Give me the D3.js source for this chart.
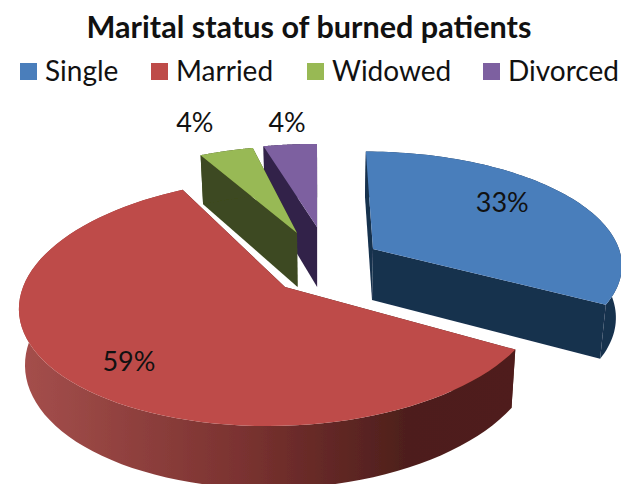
<!DOCTYPE html>
<html>
<head>
<meta charset="utf-8">
<script src="https://cdn.jsdelivr.net/npm/d3@7"></script>
<style>
  html, body { margin: 0; padding: 0; background: #fff; }
  text { font-family: Lato, "Open Sans", sans-serif; fill: #111; }
</style>
</head>
<body>
<div id="chart"></div>
<script>
// chart data
let categories = ['Single', 'Married', 'Widowed', 'Divorced'];
let percents = [33, 59, 4, 4];
let titleText = 'Marital status of burned patients';

// colours: top face, cut face
let topColors = ['#4a7ebb', '#be4b48', '#98b954', '#7d60a0'];
let sideColors = ['#17304e', '#4e1f1b', '#3e4a20', '#32244a'];

// how each exploded slice sits on the page (apex, radii, thickness, label)
let sliceLayout = [
  {ax: 373, ay: 249, bl: 246, br: 246, a: 109, s: -8, depth: 51, labelR: .6, ldx: 9, ldy: -14},
  {ax: 285, ay: 287, bl: 262, br: 256, a: 122.5, s: 15, depth: 55, labelR: .72, ldx: -6, ldy: 8},
  {ax: 297, ay: 233, bl: 241, br: 241, a: 98, s: 11, depth: 54, labelR: 1.3, ldx: -13, ldy: -7},
  {ax: 317, ay: 227, bl: 240, br: 240, a: 93, s: 0, depth: 60, labelR: 1.3, ldx: 4, ldy: 0}
];

// legend x positions (swatch left edge)
let legendX = [20, 151, 307, 483];

let svgWidth = 621;
let svgHeight = 484;
let persp = 0.119;     // far side of the pie is drawn smaller
let vanishX = 324;     // bottom face pulls toward this x
let shrink = 0.02;

let svg = d3.select('#chart').append('svg')
  .attr('width', svgWidth)
  .attr('height', svgHeight);

let defs = svg.append('defs');
let rimGradient = defs.append('linearGradient')
  .attr('id', 'rimRed')
  .attr('gradientUnits', 'userSpaceOnUse')
  .attr('x1', 20).attr('x2', 515).attr('y1', 0).attr('y2', 0);
[[0, '#a54f4c'], [0.45, '#7a3230'], [0.78, '#4e1f1c'], [1, '#4f1e1a']].forEach(function(s) {
  rimGradient.append('stop').attr('offset', s[0]).attr('stop-color', s[1]);
});

defs.append('filter').attr('id', 'soft')
  .append('feGaussianBlur').attr('stdDeviation', 0.5);

// d3.pie gives the angles, clockwise from 12 o'clock
let pie = d3.pie().sort(null).value(d => d);
let arcs = pie(percents);

function project(layout, angle, r) {
  let sin = Math.sin(angle);
  let cos = Math.cos(angle);
  let w = 1 + persp * r * cos;
  let b = sin < 0 ? layout.bl : layout.br;
  return [
    layout.ax + r * (b * sin + layout.s * cos) / w,
    layout.ay - r * layout.a * cos / w
  ];
}

// same point on the underside of the slice
function lower(layout, angle, r) {
  let p = project(layout, angle, r);
  let w = 1 + persp * r * Math.cos(angle);
  return [p[0] - shrink * (p[0] - vanishX), p[1] + layout.depth / w];
}

let line = d3.line();
let pieGroup = svg.append('g').attr('filter', 'url(#soft)');

// back to front so the married slice ends on top
let drawOrder = [0, 3, 2, 1];

drawOrder.forEach(function(i) {
  let arc = arcs[i];
  let layout = sliceLayout[i];
  let angles = d3.range(0, 81).map(k => arc.startAngle + (arc.endAngle - arc.startAngle) * k / 80);

  // both cut faces
  [arc.startAngle, arc.endAngle].forEach(function(edge) {
    let face = [project(layout, edge, 0), project(layout, edge, 1), lower(layout, edge, 1), lower(layout, edge, 0)];
    pieGroup.append('path')
      .attr('d', line(face) + 'Z')
      .attr('fill', sideColors[i]);
  });

  // outer rim
  let rim = angles.map(a => project(layout, a, 1))
    .concat(angles.slice().reverse().map(a => lower(layout, a, 1)));
  pieGroup.append('path')
    .attr('d', line(rim) + 'Z')
    .attr('fill', i === 1 ? 'url(#rimRed)' : sideColors[i]);

  // top face
  let top = [project(layout, 0, 0)].concat(angles.map(a => project(layout, a, 1)));
  pieGroup.append('path')
    .attr('d', line(top) + 'Z')
    .attr('fill', topColors[i]);
});

// percent labels
arcs.forEach(function(arc, i) {
  let layout = sliceLayout[i];
  let p = project(layout, (arc.startAngle + arc.endAngle) / 2, layout.labelR);
  svg.append('text')
    .attr('x', p[0] + layout.ldx)
    .attr('y', p[1] + layout.ldy)
    .attr('dy', '.35em')
    .attr('text-anchor', 'middle')
    .attr('font-size', '27px')
    .text(percents[i] + '%');
});

// title
svg.append('text')
  .attr('x', 309)
  .attr('y', 38)
  .attr('text-anchor', 'middle')
  .attr('font-size', '30.6px')
  .attr('font-weight', 700)
  .text(titleText);

// legend
let legend = svg.selectAll('.legend-item')
  .data(categories)
  .enter()
  .append('g')
  .classed('legend-item', true)
  .attr('transform', (d, i) => `translate(${legendX[i]}, 0)`);

legend.append('rect')
  .attr('x', 0)
  .attr('y', 63)
  .attr('width', 17)
  .attr('height', 17)
  .attr('fill', (d, i) => topColors[i]);

legend.append('text')
  .attr('x', 25)
  .attr('y', 81)
  .attr('font-size', '28px')
  .text(d => d);
</script>
</body>
</html>
